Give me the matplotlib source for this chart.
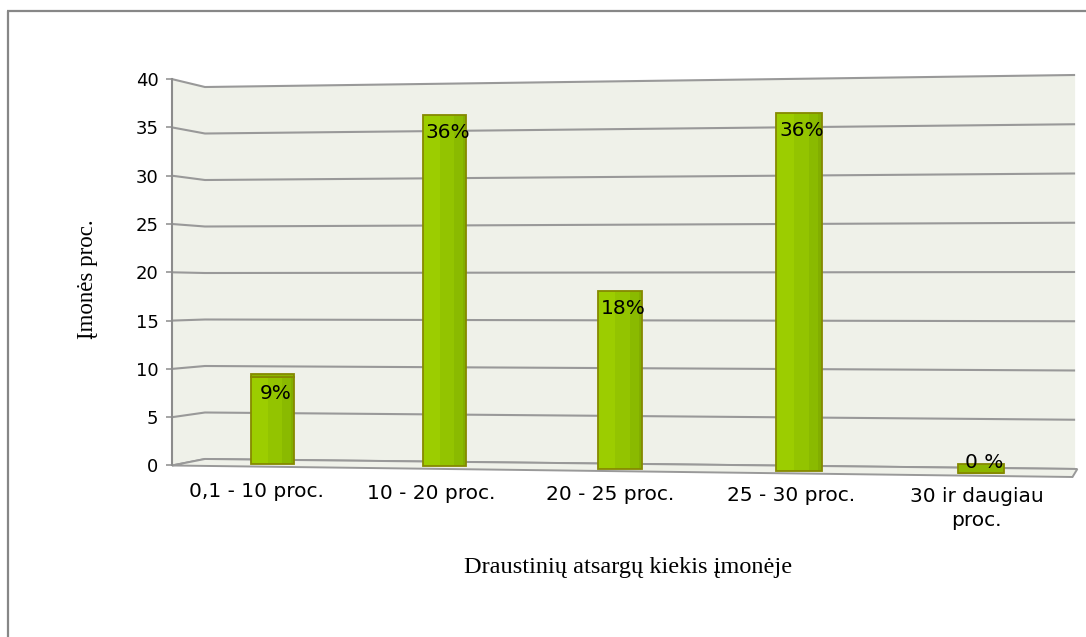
import numpy as np
import matplotlib
matplotlib.use("Agg")
import matplotlib.pyplot as plt
from matplotlib.lines import Line2D
from matplotlib.patches import Polygon

# ---- data -------------------------------------------------------------
categories = ["0,1 - 10 proc.", "10 - 20 proc.", "20 - 25 proc.",
              "25 - 30 proc.", "30 ir daugiau\nproc."]
shares = [9, 36, 18, 36, 0]
value_labels = ["9%", "36%", "18%", "36%", "0 %"]
y_ticks = [0, 5, 10, 15, 20, 25, 30, 35, 40]
x_title = "Draustinių atsargų kiekis įmonėje"
y_title = "Įmonės proc."

# ---- style ------------------------------------------------------------
WALL = "#eff1e9"
GRID = "#999999"
AXIS = "#8c8c8c"
OLIVE = "#858900"
STRIPES = [(0.00, 1.00, "#82ae00"), (0.00, 0.92, "#8aba00"),
           (0.00, 0.72, "#93c400"), (0.00, 0.40, "#9ccd00")]
CAP = "#8cb600"
SANS = ["DejaVu Sans"]
SERIF = ["Liberation Serif", "DejaVu Serif"]

# horizontal perspective: spacing of the categories widens to the right
K = 0.01


def persp_fwd(x):
    x = np.asarray(x, dtype=float)
    return x + K * x ** 2


def persp_inv(u):
    u = np.asarray(u, dtype=float)
    return (-1.0 + np.sqrt(np.maximum(1.0 + 4.0 * K * u, 1e-9))) / (2.0 * K)


# back wall / floor planes, expressed in front-axis value units
def back_left(v):
    return 0.673 + 0.9627 * np.asarray(v, dtype=float)


def back_right(v):
    return -0.362 + 1.0197 * np.asarray(v, dtype=float)


X_AXIS, X_WALL0, X_WALL1, X_FLOOR1 = -0.5935, -0.398, 4.509, 4.495
FLOOR_FRONT_RIGHT = -1.19

W, H = 1086, 637
fig = plt.figure(figsize=(W / 100, H / 100), dpi=100)
fig.patch.set_facecolor("white")

# outer frame (top and left edges visible)
fig.add_artist(Line2D([7.5 / W, 7.5 / W], [0, 1 - 10.5 / H], color="#878787",
                      lw=1.6, transform=fig.transFigure, solid_capstyle="butt"))
fig.add_artist(Line2D([7 / W, 1], [1 - 10.5 / H, 1 - 10.5 / H], color="#878787",
                      lw=1.6, transform=fig.transFigure, solid_capstyle="butt"))

ax = fig.add_axes([172 / W, 1 - 482.4 / H, (1079 - 172) / W, (482.4 - 68.96) / H])
ax.set_xscale("function", functions=(persp_fwd, persp_inv))
ax.set_xlim(X_AXIS, 4.53)
ax.set_ylim(-1.75, 41.05)
ax.patch.set_visible(False)

top_v = max(y_ticks)
# side wall and back wall
ax.add_patch(Polygon([(X_AXIS, 0), (X_AXIS, top_v), (X_WALL0, back_left(top_v)),
                      (X_WALL0, back_left(0))], closed=True, facecolor=WALL,
                     edgecolor="none", zorder=0))
ax.add_patch(Polygon([(X_WALL0, back_left(0)), (X_WALL0, back_left(top_v)),
                      (X_WALL1, back_right(top_v)), (X_WALL1, back_right(0))],
                     closed=True, facecolor=WALL, edgecolor="none", zorder=0))

# gridlines running across the side wall and the back wall
for v in y_ticks:
    ax.plot([X_AXIS, X_WALL0, X_WALL1], [v, back_left(v), back_right(v)],
            color=GRID, lw=1.5, zorder=1, solid_capstyle="butt")

# floor slab
ax.add_patch(Polygon([(X_AXIS, 0), (X_WALL0, back_left(0)), (X_WALL1 + 0.012, back_right(0)),
                      (X_FLOOR1, FLOOR_FRONT_RIGHT)], closed=True, facecolor=WALL,
                     edgecolor=GRID, lw=1.4, zorder=2))

# ---- bars -------------------------------------------------------------
pos = np.arange(len(categories))
vals = np.array(shares, dtype=float)
depth_u = persp_fwd(pos)
bar_base = 0.155 - 0.234 * depth_u
bar_gain = 1.001 + 0.00905 * depth_u
heights = vals * bar_gain
bw = 0.2525

for a, b, col in STRIPES:
    ax.bar(pos - bw / 2 + a * bw, heights, width=(b - a) * bw, bottom=bar_base,
           align="edge", color=col, edgecolor="none", zorder=3)
ax.bar(pos, heights, width=bw, bottom=bar_base, fill=False, edgecolor=OLIVE,
       lw=1.3, zorder=4)

# top faces seen from above for the lower bars
cap_h = 0.07 * np.clip(13.5 - vals, 0, None)
tops = bar_base + heights
for i in range(len(pos)):
    if cap_h[i] > 0:
        ax.bar(pos[i], cap_h[i], width=bw, bottom=tops[i], color=CAP,
               edgecolor=OLIVE, lw=1.3, zorder=4)

# value labels
for i, lab in enumerate(value_labels):
    dy = -17 if vals[i] >= 5 else 11
    ax.annotate(lab, (pos[i], tops[i]), xytext=(3, dy), textcoords="offset pixels",
                ha="center", va="center", fontsize=14.5, family=SANS,
                color="black", zorder=6)

# ---- axes decoration --------------------------------------------------
for side in ("top", "right", "bottom"):
    ax.spines[side].set_visible(False)
ax.spines["left"].set_bounds(0, top_v)
ax.spines["left"].set_color(AXIS)
ax.spines["left"].set_linewidth(1.5)
ax.spines["left"].set_zorder(2)
ax.set_yticks(y_ticks)
ax.set_yticklabels([str(t) for t in y_ticks], family=SANS)
ax.tick_params(axis="y", direction="out", length=4.3, width=1.1, color=AXIS,
               pad=5.5, labelsize=13, labelcolor="black")
ax.set_xticks([])

# category labels along the front edge of the floor
for i, cat in enumerate(categories):
    ax.annotate(cat, (pos[i], 0), xycoords=("data", "axes fraction"),
                xytext=(-16 + 2.9 * i, -1.2 * i), textcoords="offset pixels",
                ha="center", va="top", fontsize=14.5, family=SANS,
                linespacing=1.35, multialignment="center", color="black")

fig.text(87 / W, 1 - 279 / H, y_title, rotation=90, ha="center", va="center",
         fontsize=16.5, family=SERIF, color="black")
fig.text(628 / W, 1 - 568 / H, x_title, ha="center", va="center",
         fontsize=17.5, family=SERIF, color="black")

fig.savefig("out.png", dpi=100, facecolor="white")
